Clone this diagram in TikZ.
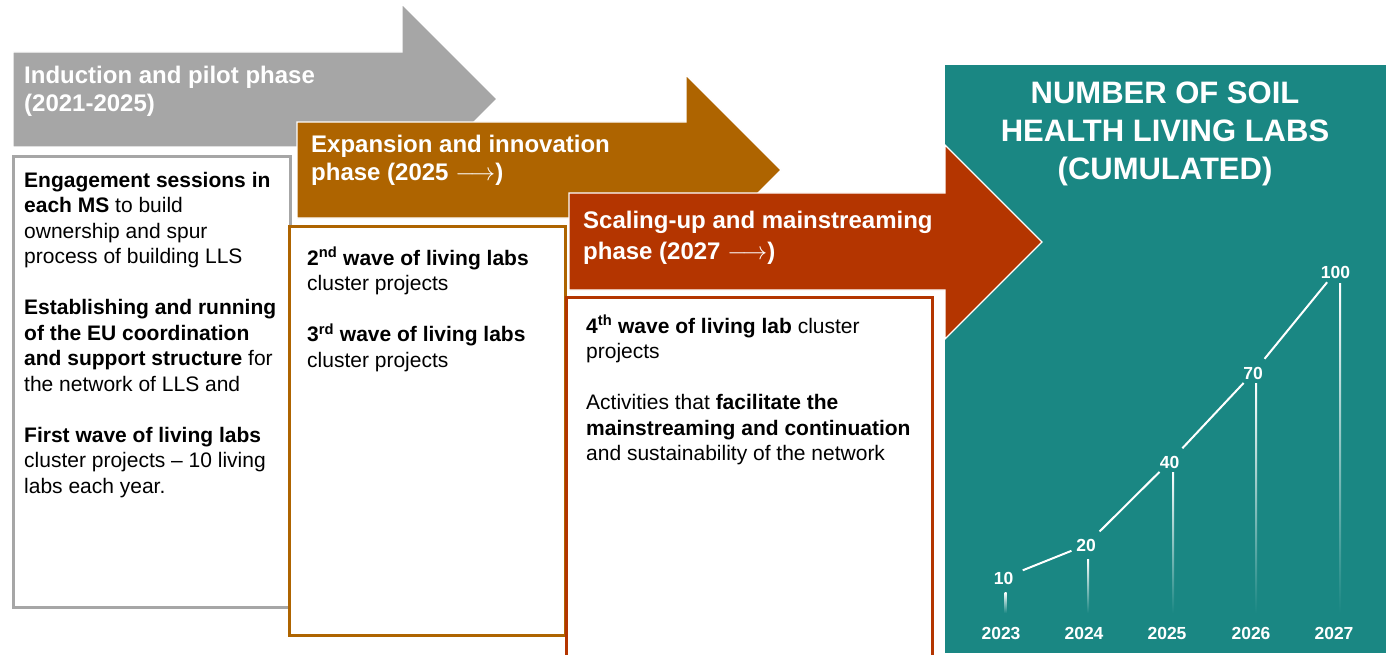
\documentclass[tikz,border=0pt]{standalone}
\usepackage{fontspec}
\setmainfont{Liberation Sans}
\usepackage{tikz}
\definecolor{pilotgray}{RGB}{166,166,166}
\definecolor{expandorange}{RGB}{174,100,0}
\definecolor{scalered}{RGB}{180,53,0}
\definecolor{soilteal}{RGB}{26,135,131}
\tikzset{
  phasearrow/.style={draw=white, line width=1.2pt, line join=miter},
  phasebox/.style={fill=white, line width=3pt},
  phasetitle/.style={anchor=north west, inner sep=0pt, align=left, text=white,
                     font=\bfseries\fontsize{24}{28.3}\selectfont},
  boxtext/.style={anchor=north west, inner sep=0pt, align=left,
                  font=\fontsize{21}{25.5}\selectfont},
  value/.style={anchor=base, inner sep=0pt, text=white, font=\bfseries\fontsize{17.5}{20}\selectfont},
  year/.style={anchor=base, inner sep=0pt, text=white, font=\bfseries\fontsize{17.5}{20}\selectfont},
  trend/.style={white, line width=2pt, shorten <=10pt, shorten >=5pt},
  fade/.style={top color=white, bottom color=soilteal},
}
\newcommand\topline{\rule{0pt}{1em}}

\begin{document}
\begin{tikzpicture}[x=1pt,y=-1pt]
\useasboundingbox (0,0) rectangle (1386,655);

%Shapes
\fill[pilotgray, phasearrow] (13,52) -- (402,52) -- (402,4) -- (497,99) -- (402,194) -- (402,147) -- (13,147) -- cycle;
\draw[phasebox, draw=pilotgray] (13,157) rectangle (290,607);
\fill[expandorange, phasearrow] (297,122) -- (686,122) -- (686,75) -- (781,170) -- (686,265) -- (686,218) -- (297,218) -- cycle;
\draw[phasebox, draw=expandorange] (289,226) rectangle (565,635);
\fill[soilteal] (945,65) rectangle (1386,653);
\fill[scalered, phasearrow] (569,193) -- (945,193) -- (945,145) -- (1042,242) -- (945,339) -- (945,290) -- (569,290) -- cycle;
\draw[phasebox, draw=scalered] (566,297) rectangle (932,658);

%Phase titles
\node[phasetitle] (pilottitle) at (24,59) {\topline Induction and pilot phase\\(2021-2025)};
\node[phasetitle] (expandtitle) at (311,128) {\topline Expansion and innovation\\phase (2025 $\longrightarrow$)};
\node[phasetitle, font=\bfseries\fontsize{24}{31.5}\selectfont] (scaletitle) at (583,204) {\topline Scaling-up and mainstreaming\\phase (2027 $\longrightarrow$)};

%Box texts
\node[boxtext] (pilottext) at (24,166) {\topline\textbf{Engagement sessions in}\\
  \textbf{each MS} to build\\
  ownership and spur\\
  process of building LLS\\[25.5pt]
  \textbf{Establishing and running}\\
  \textbf{of the EU coordination}\\
  \textbf{and support structure} for\\
  the network of LLS and\\[25.5pt]
  \textbf{First wave of living labs}\\
  cluster projects -- 10 living\\
  labs each year.};
\node[boxtext] (expandtext) at (307,244) {\topline\textbf{2\textsuperscript{nd} wave of living labs}\\
  cluster projects\\[25.5pt]
  \textbf{3\textsuperscript{rd} wave of living labs}\\
  cluster projects};
\node[boxtext] (scaletext) at (586,312) {\topline\textbf{4\textsuperscript{th} wave of living lab} cluster\\
  projects\\[25.5pt]
  Activities that \textbf{facilitate the}\\
  \textbf{mainstreaming and continuation}\\
  and sustainability of the network};

%Chart
\node[anchor=north, inner sep=0pt, align=center, text=white,
      font=\bfseries\fontsize{31}{38.3}\selectfont] (charttitle) at (1165,72)
      {\topline NUMBER OF SOIL\\HEALTH LIVING LABS\\(CUMULATED)};
\coordinate (axis) at (0,613);
\node[value] (v10) at (1003.5,584) {10};
\node[value] (v20) at (1086,551) {20};
\node[value] (v40) at (1169.5,468) {40};
\node[value] (v70) at (1253,379) {70};
\node[value] (v100) at (1335.5,278) {100};
\node[year] (y23) at (1001,639) {2023};
\node[year] (y24) at (1084,639) {2024};
\node[year] (y25) at (1167,639) {2025};
\node[year] (y26) at (1251,639) {2026};
\node[year] (y27) at (1334,639) {2027};

%Lines
\draw[trend] (v10) -- (v20);
\draw[trend] (v20) -- (v40);
\draw[trend] (v40) -- (v70);
\draw[trend] (v70) -- (v100);
\shade[fade] ([xshift=1pt,yshift=-8pt]v10.south) rectangle ([xshift=3pt]v10.south |- axis);
\shade[fade] ([xshift=1pt,yshift=-8pt]v20.south) rectangle ([xshift=3pt]v20.south |- axis);
\shade[fade] ([xshift=2.5pt,yshift=-4pt]v40.south) rectangle ([xshift=4.5pt]v40.south |- axis);
\shade[fade] ([xshift=2pt,yshift=-4pt]v70.south) rectangle ([xshift=4pt]v70.south |- axis);
\shade[fade] ([xshift=3.5pt,yshift=-5pt]v100.south) rectangle ([xshift=5.5pt]v100.south |- axis);
\end{tikzpicture}
\end{document}
